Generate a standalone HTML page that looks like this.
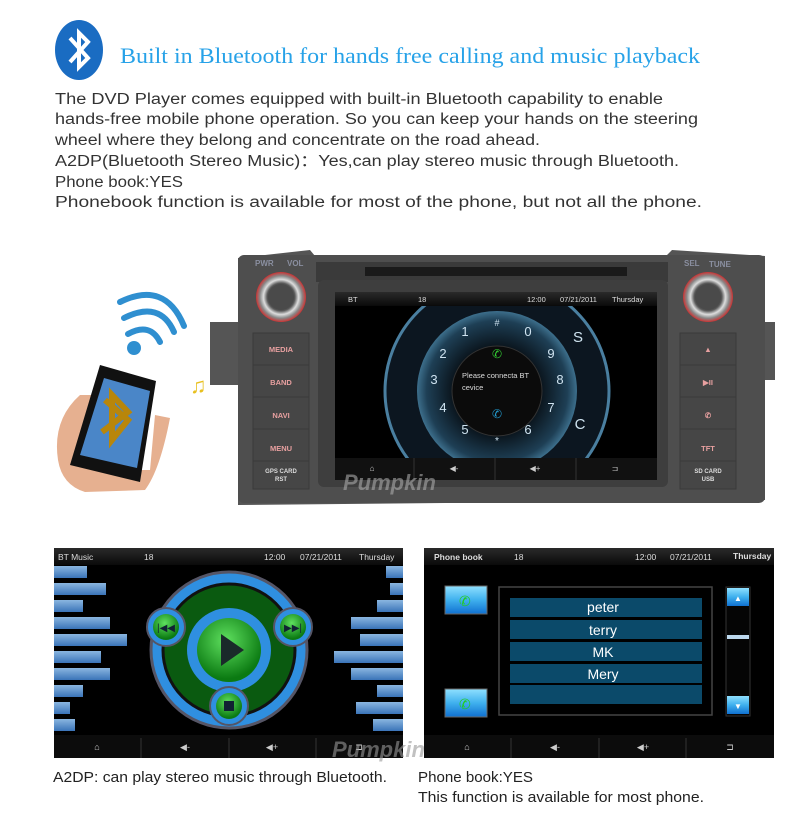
<!DOCTYPE html>
<html><head><meta charset="utf-8"><style>
body{margin:0;background:#fff;width:800px;height:830px;overflow:hidden;font-family:"Liberation Sans",sans-serif}
svg{display:block}
</style></head><body>
<svg width="800" height="830" viewBox="0 0 800 830" xmlns="http://www.w3.org/2000/svg" font-family="Liberation Sans, sans-serif">
<defs>
<radialGradient id="knob" cx="50%" cy="50%" r="50%"><stop offset="0.55" stop-color="#555"/><stop offset="0.7" stop-color="#ddd"/><stop offset="0.85" stop-color="#888"/><stop offset="1" stop-color="#c33"/></radialGradient>
<radialGradient id="dial" cx="50%" cy="50%" r="50%"><stop offset="0.55" stop-color="#0a141c"/><stop offset="0.88" stop-color="#1e3f55"/><stop offset="1" stop-color="#3d6f8c"/></radialGradient>
<radialGradient id="grn" cx="45%" cy="35%" r="60%"><stop offset="0" stop-color="#5fe05f"/><stop offset="1" stop-color="#0b7a12"/></radialGradient>
<linearGradient id="bar" x1="0" y1="0" x2="0" y2="1"><stop offset="0" stop-color="#8ab6e0"/><stop offset="1" stop-color="#3a74b8"/></linearGradient>
<linearGradient id="btn" x1="0" y1="0" x2="0" y2="1"><stop offset="0" stop-color="#8fe0ff"/><stop offset="0.5" stop-color="#3fb0ee"/><stop offset="1" stop-color="#1070d0"/></linearGradient>
<linearGradient id="top" x1="0" y1="0" x2="0" y2="1"><stop offset="0" stop-color="#2a2a2a"/><stop offset="1" stop-color="#0a0a0a"/></linearGradient>
<clipPath id="scr"><rect x="335" y="306" width="322" height="152"/></clipPath>
</defs>

<!-- bluetooth logo -->
<ellipse cx="79" cy="50" rx="24" ry="30" fill="#1a6cc2"/>
<path d="M70 38 L88 58 L79 67 L79 33 L88 42 L70 62" fill="none" stroke="#fff" stroke-width="4" stroke-linejoin="miter"/>
<text x="120" y="63" font-family="Liberation Serif, serif" font-size="22" fill="#27a2e8" textLength="580" lengthAdjust="spacingAndGlyphs">Built in Bluetooth for hands free calling and music playback</text>

<g font-size="15.5" fill="#333">
<text x="55" y="104" textLength="608" lengthAdjust="spacingAndGlyphs">The DVD Player comes equipped with built-in Bluetooth capability to enable</text>
<text x="55" y="124" textLength="643" lengthAdjust="spacingAndGlyphs">hands-free mobile phone operation. So you can keep your hands on the steering</text>
<text x="55" y="145" textLength="485" lengthAdjust="spacingAndGlyphs">wheel where they belong and concentrate on the road ahead.</text>
<text x="55" y="166" textLength="624" lengthAdjust="spacingAndGlyphs">A2DP(Bluetooth Stereo Music)：Yes,can play stereo music through Bluetooth.</text>
<text x="55" y="187" textLength="128" lengthAdjust="spacingAndGlyphs">Phone book:YES</text>
<text x="55" y="207" textLength="647" lengthAdjust="spacingAndGlyphs">Phonebook function is available for most of the phone, but not all the phone.</text>
</g>

<!-- wifi + phone -->
<g fill="none" stroke="#2f8fd0" stroke-width="6" stroke-linecap="round">
<path d="M128 334 Q150 322 160 342"/>
<path d="M124 318 Q160 300 174 332"/>
<path d="M120 302 Q165 280 184 326"/>
</g>
<circle cx="134" cy="348" r="7" fill="#2f8fd0"/>
<path d="M58 460 Q52 420 80 395 L100 395 L95 470 L150 470 L155 415 L170 418 Q160 470 145 490 L85 492 Q62 485 58 460Z" fill="#e6b090"/>
<polygon points="100,365 156,381 140,482 70,465" fill="#111"/>
<polygon points="104,378 150,391 137,468 80,455" fill="#4a86c8"/>
<path d="M105 400 L128 420 L112 440 L112 395 L128 412 L102 432" fill="none" stroke="#b8860b" stroke-width="6"/>
<text x="190" y="393" font-size="22" fill="#e8c020">♫</text>

<!-- head unit -->
<path d="M210 322 L238 322 L238 258 L310 250 L320 262 L660 262 L672 250 L765 256 L765 322 L775 322 L775 380 L765 380 L765 500 L238 505 L238 385 L210 385Z" fill="#555"/>
<rect x="238" y="255" width="527" height="248" rx="6" fill="#4e4e4e"/>
<rect x="316" y="262" width="352" height="20" fill="#3a3a3a"/>
<rect x="365" y="267" width="262" height="9" fill="#1a1a1a"/>
<rect x="318" y="280" width="350" height="207" rx="6" fill="#3e3e3e"/>
<rect x="335" y="292" width="322" height="188" fill="#000"/>
<rect x="335" y="292" width="322" height="14" fill="url(#top)"/>
<g font-size="7.5" fill="#ddd"><text x="348" y="302">BT</text><text x="418" y="302">18</text><text x="527" y="302">12:00</text><text x="560" y="302">07/21/2011</text><text x="612" y="302">Thursday</text></g>
<g clip-path="url(#scr)">
<circle cx="497" cy="391" r="112" fill="#0c1620" stroke="#4a7fa0" stroke-width="3"/>
</g>
<circle cx="497" cy="391" r="80" fill="url(#dial)"/>
<circle cx="497" cy="391" r="45" fill="#0b0b0b" stroke="#333"/>
<g font-size="13" fill="#cfe3f0" text-anchor="middle">
<text x="465" y="336">1</text><text x="528" y="336">0</text><text x="497" y="326" font-size="9">#</text>
<text x="443" y="358">2</text><text x="551" y="358">9</text>
<text x="434" y="384">3</text><text x="560" y="384">8</text>
<text x="443" y="412">4</text><text x="551" y="412">7</text>
<text x="465" y="434">5</text><text x="528" y="434">6</text><text x="497" y="444" font-size="10">*</text>
<text x="580" y="429" font-size="15">C</text><text x="578" y="342" font-size="15">S</text>
</g>
<text x="462" y="378" font-size="7.5" fill="#ddd">Please connecta BT</text>
<text x="462" y="390" font-size="7.5" fill="#ddd">cevice</text>
<text x="492" y="358" font-size="12" fill="#3c3">✆</text>
<text x="492" y="418" font-size="12" fill="#29c">✆</text>
<rect x="335" y="458" width="322" height="22" fill="#111"/>
<g stroke="#333"><line x1="414" y1="458" x2="414" y2="480"/><line x1="495" y1="458" x2="495" y2="480"/><line x1="576" y1="458" x2="576" y2="480"/></g>
<g font-size="8" fill="#ccc" text-anchor="middle"><text x="372" y="471">⌂</text><text x="454" y="471">◀-</text><text x="535" y="471">◀+</text><text x="615" y="471">⊐</text></g>
<text x="343" y="490" font-size="22" font-style="italic" font-weight="bold" fill="#aaa" opacity="0.6">Pumpkin</text>

<g font-size="8" fill="#8a8fa0" font-weight="bold"><text x="255" y="266">PWR</text><text x="287" y="266">VOL</text><text x="684" y="266">SEL</text><text x="709" y="267">TUNE</text></g>
<circle cx="281" cy="297" r="25" fill="url(#knob)"/><circle cx="281" cy="297" r="13" fill="#4a4a4a"/>
<circle cx="708" cy="297" r="25" fill="url(#knob)"/><circle cx="708" cy="297" r="13" fill="#4a4a4a"/>
<g fill="#464646" stroke="#3a3a3a">
<rect x="253" y="333" width="56" height="32"/><rect x="253" y="365" width="56" height="32"/><rect x="253" y="397" width="56" height="32"/><rect x="253" y="429" width="56" height="32"/><rect x="253" y="461" width="56" height="28"/>
<rect x="680" y="333" width="56" height="32"/><rect x="680" y="365" width="56" height="32"/><rect x="680" y="397" width="56" height="32"/><rect x="680" y="429" width="56" height="32"/><rect x="680" y="461" width="56" height="28"/>
</g>
<g font-size="7.5" font-weight="bold" fill="#e8a0a0" text-anchor="middle">
<text x="281" y="352">MEDIA</text><text x="281" y="385">BAND</text><text x="281" y="418">NAVI</text><text x="281" y="451">MENU</text>
<text x="708" y="352">▲</text><text x="708" y="385">▶II</text><text x="708" y="418">✆</text><text x="708" y="451">TFT</text>
</g>
<g font-size="6" font-weight="bold" fill="#ddd" text-anchor="middle"><text x="281" y="473">GPS CARD</text><text x="281" y="481">RST</text><text x="708" y="473">SD CARD</text><text x="708" y="481">USB</text></g>

<!-- BT music screen -->
<rect x="54" y="548" width="349" height="210" fill="#000"/>
<rect x="54" y="548" width="349" height="17" fill="url(#top)"/>
<g font-size="8.5" fill="#ddd"><text x="58" y="560">BT Music</text><text x="144" y="560">18</text><text x="264" y="560">12:00</text><text x="300" y="560">07/21/2011</text><text x="359" y="560">Thursday</text></g>
<g fill="url(#bar)">
<rect x="54" y="566" width="33" height="12"/><rect x="54" y="583" width="52" height="12"/><rect x="54" y="600" width="29" height="12"/><rect x="54" y="617" width="56" height="12"/><rect x="54" y="634" width="73" height="12"/><rect x="54" y="651" width="47" height="12"/><rect x="54" y="668" width="56" height="12"/><rect x="54" y="685" width="29" height="12"/><rect x="54" y="702" width="16" height="12"/><rect x="54" y="719" width="21" height="12"/>
<rect x="386" y="566" width="17" height="12"/><rect x="390" y="583" width="13" height="12"/><rect x="377" y="600" width="26" height="12"/><rect x="351" y="617" width="52" height="12"/><rect x="360" y="634" width="43" height="12"/><rect x="334" y="651" width="69" height="12"/><rect x="351" y="668" width="52" height="12"/><rect x="377" y="685" width="26" height="12"/><rect x="356" y="702" width="47" height="12"/><rect x="373" y="719" width="30" height="12"/>
</g>
<circle cx="229" cy="650" r="78" fill="#2f8fe0" stroke="#556" stroke-width="3"/>
<circle cx="229" cy="650" r="66" fill="#0a5a10" stroke="#111" stroke-width="3"/>
<circle cx="229" cy="650" r="42" fill="#2f8fe0"/>
<circle cx="229" cy="650" r="32" fill="url(#grn)"/>
<polygon points="221,634 221,666 244,650" fill="#1a2a2a"/>
<circle cx="166" cy="627" r="19" fill="#2f8fe0" stroke="#556" stroke-width="2"/><circle cx="166" cy="627" r="13" fill="url(#grn)"/>
<circle cx="293" cy="627" r="19" fill="#2f8fe0" stroke="#556" stroke-width="2"/><circle cx="293" cy="627" r="13" fill="url(#grn)"/>
<circle cx="229" cy="706" r="19" fill="#2f8fe0" stroke="#556" stroke-width="2"/><circle cx="229" cy="706" r="13" fill="url(#grn)"/>
<text x="166" y="631" font-size="10" fill="#123" text-anchor="middle">|◀◀</text>
<text x="293" y="631" font-size="10" fill="#123" text-anchor="middle">▶▶|</text>
<rect x="224" y="701" width="10" height="10" fill="#123"/>
<rect x="54" y="735" width="349" height="23" fill="#0c0c0c"/>
<g stroke="#333"><line x1="141" y1="738" x2="141" y2="758"/><line x1="229" y1="738" x2="229" y2="758"/><line x1="316" y1="738" x2="316" y2="758"/></g>
<g font-size="9" fill="#ccc" text-anchor="middle"><text x="97" y="750">⌂</text><text x="185" y="750">◀-</text><text x="272" y="750">◀+</text><text x="359" y="750">⊐</text></g>
<text x="332" y="757" font-size="22" font-style="italic" font-weight="bold" fill="#999" opacity="0.6">Pumpkin</text>

<!-- phone book screen -->
<rect x="424" y="548" width="350" height="210" fill="#000"/>
<rect x="424" y="548" width="350" height="17" fill="url(#top)"/>
<g font-size="8.5" fill="#ddd"><text x="434" y="560" font-weight="bold">Phone book</text><text x="514" y="560">18</text><text x="635" y="560">12:00</text><text x="670" y="560">07/21/2011</text><text x="733" y="559" font-weight="bold">Thursday</text></g>
<rect x="499" y="587" width="213" height="128" fill="none" stroke="#444" stroke-width="1.5"/>
<g fill="#0b4a6a"><rect x="510" y="598" width="192" height="19"/><rect x="510" y="620" width="192" height="19"/><rect x="510" y="642" width="192" height="19"/><rect x="510" y="664" width="192" height="19"/><rect x="510" y="685" width="192" height="19"/></g>
<g font-size="14" fill="#fff" text-anchor="middle"><text x="603" y="612">peter</text><text x="603" y="635">terry</text><text x="603" y="657">MK</text><text x="603" y="679">Mery</text></g>
<rect x="445" y="586" width="42" height="28" fill="url(#btn)" stroke="#666"/>
<rect x="445" y="689" width="42" height="28" fill="url(#btn)" stroke="#666"/>
<text x="459" y="606" font-size="14" fill="#2c2">✆</text><text x="459" y="709" font-size="14" fill="#2c2">✆</text>
<rect x="726" y="587" width="24" height="129" fill="#050505" stroke="#333"/>
<rect x="727" y="588" width="22" height="18" fill="url(#btn)"/><rect x="727" y="696" width="22" height="18" fill="url(#btn)"/>
<rect x="727" y="635" width="22" height="4" fill="#bcd8ee"/>
<text x="738" y="601" font-size="8" fill="#fff" text-anchor="middle">▲</text><text x="738" y="709" font-size="8" fill="#fff" text-anchor="middle">▼</text>
<rect x="424" y="735" width="350" height="23" fill="#0c0c0c"/>
<g stroke="#333"><line x1="511" y1="738" x2="511" y2="758"/><line x1="599" y1="738" x2="599" y2="758"/><line x1="686" y1="738" x2="686" y2="758"/></g>
<g font-size="9" fill="#ccc" text-anchor="middle"><text x="467" y="750">⌂</text><text x="555" y="750">◀-</text><text x="643" y="750">◀+</text><text x="730" y="750">⊐</text></g>

<g font-size="14.5" fill="#222">
<text x="53" y="782" textLength="334" lengthAdjust="spacingAndGlyphs">A2DP: can play stereo music through Bluetooth.</text>
<text x="418" y="782" textLength="115" lengthAdjust="spacingAndGlyphs">Phone book:YES</text>
<text x="418" y="802" textLength="286" lengthAdjust="spacingAndGlyphs">This function is available for most phone.</text>
</g>
</svg>
</body></html>
